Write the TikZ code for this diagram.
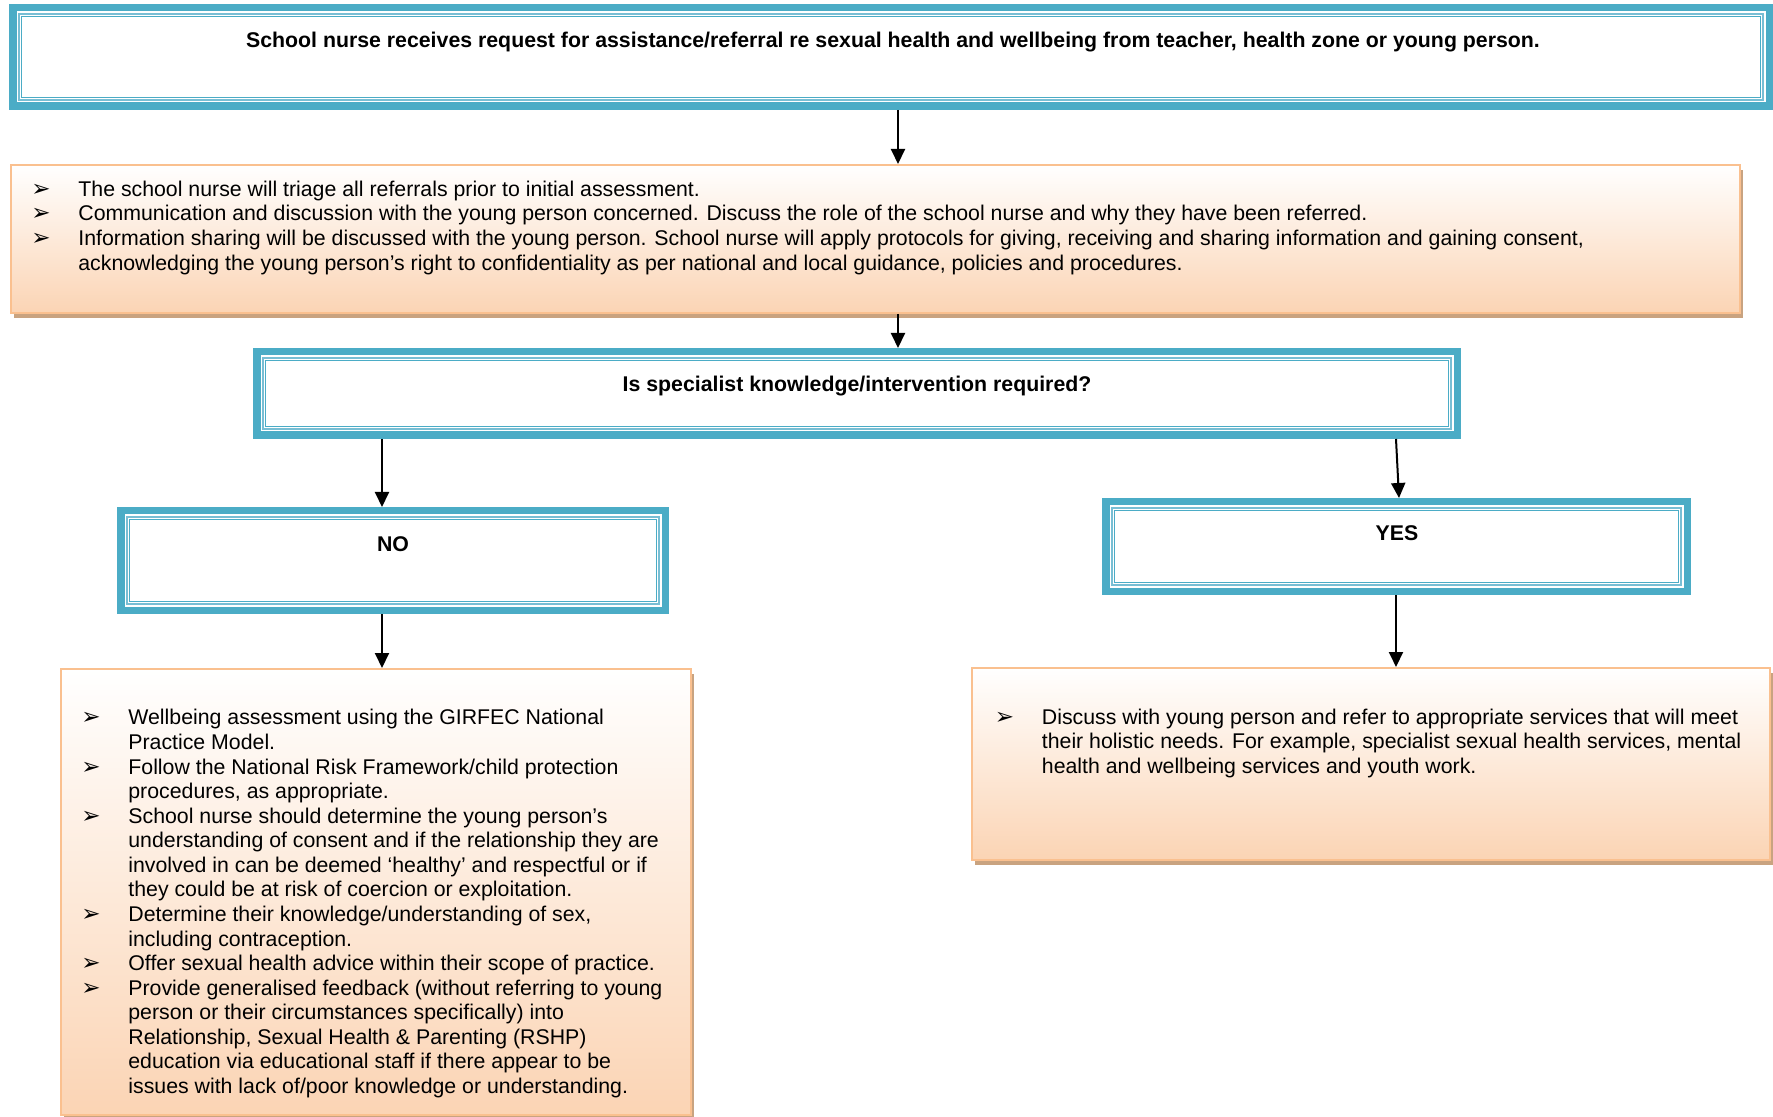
\documentclass[tikz,border=0pt]{standalone}
\usepackage{fontspec}
\setmainfont{Liberation Sans}
\newfontfamily\bulfont{DejaVu Sans}
\usetikzlibrary{arrows.meta,shadows}
\definecolor{blueA}{RGB}{75,172,198}
\definecolor{blueL}{RGB}{120,190,212}
\definecolor{orB}{RGB}{250,192,143}
\definecolor{peach}{RGB}{251,212,180}
\definecolor{shad}{RGB}{201,163,128}
\newcommand{\txtsize}{\fontsize{10.65pt}{12.285pt}\selectfont}
\newcommand{\bul}{\makebox[23.5pt][l]{\fontsize{11.5pt}{11.5pt}\bulfont ➢}}
\newcommand{\ind}{\hspace*{23.5pt}}
\newcommand{\innerlines}[1]{%
  \draw[blueL, line width=0.8pt] ([shift={(10,10)}]#1.north west) rectangle ([shift={(-10,-10)}]#1.south east);
  \draw[blueA, line width=0.6pt] ([shift={(12.5,12.5)}]#1.north west) rectangle ([shift={(-12.5,-12.5)}]#1.south east);}
\tikzset{
  bluebox/.style={draw=blueA, line width=3.75pt, fill=white, inner sep=0},
  orbox/.style={draw=orB, line width=1pt, top color=white, bottom color=peach, inner sep=0,
    drop shadow={shadow xshift=1.5pt, shadow yshift=-2.5pt, fill=shad, opacity=1}},
  txt/.style={font=\txtsize, align=left, inner sep=0, anchor=north west},
  btxt/.style={font=\txtsize\bfseries, inner sep=0, anchor=base},
  arr/.style={line width=1pt, -{Triangle[length=7.5pt,width=7pt]}}
}
\begin{document}
\begin{tikzpicture}[x=0.5pt,y=-0.5pt]
\useasboundingbox[fill=white] (0,0) rectangle (1773,1117);
% blue boxes
\node[bluebox, minimum width=878.25pt, minimum height=49.25pt] (top) at (891,57) {};
\innerlines{top}
\node[bluebox, minimum width=600.25pt, minimum height=41.75pt] (q) at (857,393.5) {};
\innerlines{q}
\node[bluebox, minimum width=272.25pt, minimum height=49.75pt] (no) at (393,560.5) {};
\innerlines{no}
\node[bluebox, minimum width=290.75pt, minimum height=44.75pt] (yes) at (1396.5,546.5) {};
\innerlines{yes}
% orange boxes
\node[orbox, minimum width=864.5pt, minimum height=74pt] (tri) at (875.5,239) {};
\node[orbox, minimum width=315pt, minimum height=223pt] (noT) at (376,892) {};
\node[orbox, minimum width=399pt, minimum height=96pt] (yesT) at (1371,764) {};
% titles
\node[btxt] (topL) at (893,48) {School nurse receives request for assistance/referral re sexual health and wellbeing from teacher, health zone or young person.};
\node[btxt] (qL) at (857,392) {Is specialist knowledge/intervention required?};
\node[btxt] (noL) at (393,552) {NO};
\node[btxt] (yesL) at (1397,541) {YES};
% bullet texts
\node[txt] (triL) at (31,178.8) {\strut\bul The school nurse will triage all referrals prior to initial assessment.\\
\bul Communication and discussion with the young person concerned. Discuss the role of the school nurse and why they have been referred.\\
\bul Information sharing will be discussed with the young person. School nurse will apply protocols for giving, receiving and sharing information and gaining consent,\\
\ind acknowledging the young person’s right to confidentiality as per national and local guidance, policies and procedures.};
\node[txt] (noTL) at (81,707.3) {\strut\bul Wellbeing assessment using the GIRFEC National\\
\ind Practice Model.\\
\bul Follow the National Risk Framework/child protection\\
\ind procedures, as appropriate.\\
\bul School nurse should determine the young person’s\\
\ind understanding of consent and if the relationship they are\\
\ind involved in can be deemed ‘healthy’ and respectful or if\\
\ind they could be at risk of coercion or exploitation.\\
\bul Determine their knowledge/understanding of sex,\\
\ind including contraception.\\
\bul Offer sexual health advice within their scope of practice.\\
\bul Provide generalised feedback (without referring to young\\
\ind person or their circumstances specifically) into\\
\ind Relationship, Sexual Health \& Parenting (RSHP)\\
\ind education via educational staff if there appear to be\\
\ind issues with lack of/poor knowledge or understanding.};
\node[txt] (yesTL) at (994.5,706.8) {\strut\bul Discuss with young person and refer to appropriate services that will meet\\
\ind their holistic needs. For example, specialist sexual health services, mental\\
\ind health and wellbeing services and youth work.};
% connectors
\coordinate (ax1) at (898,0);
\coordinate (ax2) at (382,0);
\coordinate (ax3) at (1396,0);
\coordinate (ax4) at (1399,0);
\draw[arr] (top.south -| ax1) -- (tri.north -| ax1);
\draw[arr] (tri.south -| ax1) -- (q.north -| ax1);
\draw[arr] (q.south -| ax2) -- (no.north -| ax2);
\draw[arr] (no.south -| ax2) -- (noT.north -| ax2);
\draw[arr] (q.south -| ax3) -- (yes.north -| ax4);
\draw[arr] (yes.south -| ax3) -- (yesT.north -| ax3);
\end{tikzpicture}
\end{document}
